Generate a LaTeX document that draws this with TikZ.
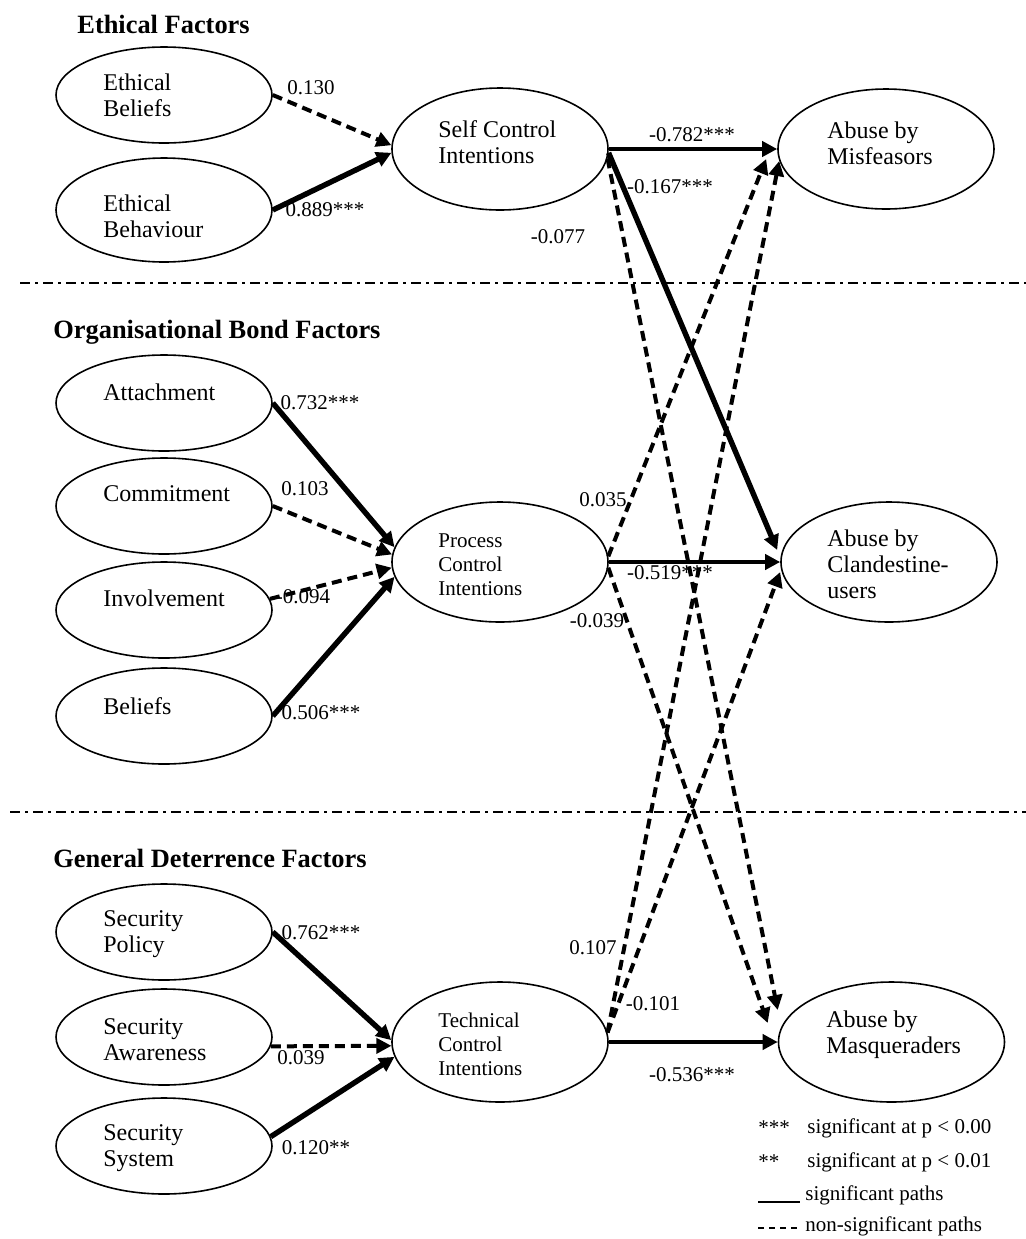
\documentclass[tikz,border=0pt]{standalone}
\usepackage{fontspec}
\setmainfont{Liberation Serif}
\usetikzlibrary{arrows.meta,shapes.geometric}
\begin{document}
\begin{tikzpicture}[x=0.5pt,y=-0.5pt,
  oval/.style={draw, ellipse, line width=0.8pt, minimum width=108pt, minimum height=48pt, inner sep=0pt},
  bigoval/.style={draw, ellipse, line width=0.8pt, minimum width=108pt, minimum height=61pt, inner sep=0pt},
  sig/.style={line width=2.7pt, -{Triangle[length=7.5pt,width=7.5pt]}},
  hsig/.style={line width=2.2pt, -{Triangle[length=7.5pt,width=7.5pt]}},
  nsig/.style={line width=2pt, dash pattern=on 5pt off 3pt, -{Triangle[length=7.5pt,width=7.5pt]}},
  lab/.style={font=\fontsize{10.5}{12}\selectfont, inner sep=0pt},
  nm/.style={font=\fontsize{12}{13}\selectfont, align=left, anchor=west, inner sep=0pt},
  nms/.style={font=\fontsize{10.5}{12}\selectfont, align=left, anchor=west, inner sep=0pt},
  ttl/.style={font=\fontsize{13.2}{15}\selectfont\bfseries, anchor=west, inner sep=0pt},
  sepline/.style={line width=1.1pt, dash pattern=on 5pt off 2.5pt on 1.5pt off 2.5pt}
]
\useasboundingbox (0,0) rectangle (1026,1239);

% titles
\node[ttl] (t1) at (77,24) {Ethical Factors};
\node[ttl] (t2) at (53,332) {Organisational Bond Factors};
\node[ttl] (t3) at (53,858) {General Deterrence Factors};

% separators
\draw[sepline] (20,283) -- (1026,283);
\draw[sepline] (10,812) -- (1026,812);

% ellipses
\node[oval] (eb) at (164,95) {};
\node[oval, minimum height=52pt] (ebh) at (164,210) {};
\node[oval] (att) at (164,403) {};
\node[oval] (com) at (164,506) {};
\node[oval] (inv) at (164,610) {};
\node[oval] (bel) at (164,716) {};
\node[oval] (sp) at (164,932) {};
\node[oval] (sa) at (164,1037) {};
\node[oval] (ss) at (164,1146) {};
\node[bigoval] (sc) at (500,149) {};
\node[bigoval, minimum height=60pt] (pc) at (500,562) {};
\node[bigoval, minimum height=60pt] (tc) at (500,1042) {};
\node[bigoval, minimum height=60pt] (mis) at (886,149) {};
\node[bigoval, minimum height=60pt] (cla) at (889,562) {};
\node[bigoval, minimum width=113pt, minimum height=60pt] (mas) at (891.5,1042) {};

% ellipse texts
\node[nm] (ebT) at (103,95) {Ethical\\Beliefs};
\node[nm] (ebhT) at (103,216) {Ethical\\Behaviour};
\node[nm] (attT) at (103,392) {Attachment};
\node[nm] (comT) at (103,494) {Commitment};
\node[nm] (invT) at (103,598) {Involvement};
\node[nm] (belT) at (103,706) {Beliefs};
\node[nm] (spT) at (103,934) {Security\\Policy};
\node[nm] (saT) at (103,1040) {Security\\Awareness};
\node[nm] (ssT) at (103,1148) {Security\\System};
\node[nm] (scT) at (438,142) {Self Control\\Intentions};
\node[nms] (pcT) at (438,565) {Process\\Control\\Intentions};
\node[nms] (tcT) at (438,1044) {Technical\\Control\\Intentions};
\node[nm] (misT) at (827,143) {Abuse by\\Misfeasors};
\node[nm] (claT) at (827,564) {Abuse by\\Clandestine-\\users};
\node[nm] (masT) at (826,1035) {Abuse by\\Masqueraders};

% left arrows
\draw[nsig] (eb.east) -- (sc.178);
\draw[sig] (ebh.east) -- (sc.182);
\draw[sig] (att.east) -- (pc.172);
\draw[nsig] (com.east) -- (pc.176);
\draw[nsig] (inv.6) -- (pc.183);
\draw[sig] (bel.east) -- (pc.188);
\draw[sig] (sp.east) -- (tc.179);
\draw[nsig] (sa.355) -- (tc.182);
\draw[sig] (ss.5) -- (tc.188);

% right arrows
\draw[hsig] (sc.east) -- (mis.west);
\draw[sig] (sc.358) -- ([xshift=-1.5pt,yshift=6pt]cla.west);
\draw[nsig] (sc.355) -- ([yshift=16pt]mas.west);
\draw[hsig] (pc.east) -- (cla.west);
\draw[nsig] (pc.3) -- ([xshift=-5.5pt,yshift=-5pt]mis.west);
\draw[nsig] (pc.357) -- ([xshift=-5pt,yshift=9.5pt]mas.west);
\draw[hsig] (tc.east) -- (mas.west);
\draw[nsig] (tc.5) -- ([xshift=1pt,yshift=-6pt]mis.west);
\draw[nsig] (tc.5) -- ([yshift=-5pt]cla.west);

% path labels
\node[lab] (l1) at (311,88) {0.130};
\node[lab] (l2) at (325,210) {0.889***};
\node[lab] (l3) at (692,135) {-0.782***};
\node[lab] (l4) at (670,187) {-0.167***};
\node[lab] (l5) at (558,237) {-0.077};
\node[lab] (l6) at (320,403) {0.732***};
\node[lab] (l7) at (305,489) {0.103};
\node[lab] (l8) at (303,597) {-0.094};
\node[lab] (l9) at (321,713) {0.506***};
\node[lab] (l10) at (603,500) {0.035};
\node[lab] (l11) at (670,573) {-0.519***};
\node[lab] (l12) at (597,621) {-0.039};
\node[lab] (l13) at (321,933) {0.762***};
\node[lab] (l14) at (301,1058) {0.039};
\node[lab] (l15) at (316,1148) {0.120**};
\node[lab] (l16) at (593,948) {0.107};
\node[lab] (l17) at (653,1004) {-0.101};
\node[lab] (l18) at (692,1075) {-0.536***};

% legend
\node[lab, anchor=west] (k1) at (758,1128) {***};
\node[lab, anchor=west] (k1t) at (807,1128) {significant at p < 0.00};
\node[lab, anchor=west] (k2) at (758,1162) {**};
\node[lab, anchor=west] (k2t) at (807,1162) {significant at p < 0.01};
\draw[line width=0.6pt] (758,1202) -- (800,1202);
\node[lab, anchor=west] (k3t) at (805,1195) {significant paths};
\draw[line width=0.6pt, dash pattern=on 3pt off 2.5pt] (758,1228) -- (800,1228);
\node[lab, anchor=west] (k4t) at (805,1226) {non-significant paths};
\end{tikzpicture}
\end{document}
